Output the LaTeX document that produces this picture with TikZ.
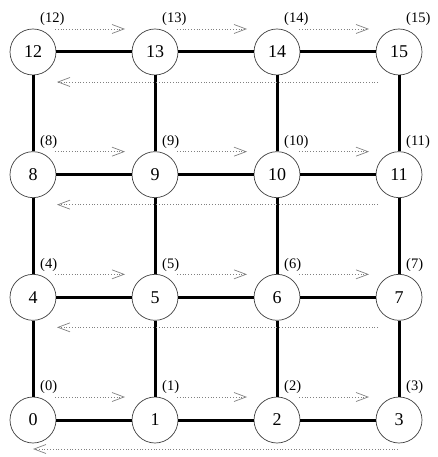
\documentclass[tikz,border=0pt]{standalone}
\usepackage{fontspec}
\setmainfont{Liberation Serif}
\usetikzlibrary{arrows.meta}
\begin{document}
\begin{tikzpicture}[x=1pt,y=-1pt,
 vert/.style={circle,draw=black!75,line width=0.7pt,minimum size=46pt,inner sep=0pt,font=\fontsize{18}{18}\selectfont,fill=white},
 lbl/.style={anchor=south west,inner sep=0pt,font=\fontsize{14.5}{14.5}\selectfont},
 link/.style={line width=3pt},
 fwd/.style={dotted,black!50,line width=0.8pt,-{Straight Barb[length=12pt,width=9pt,line width=0.7pt]}},
]
\useasboundingbox (0,0) rectangle (438,457);
\foreach \i in {0,...,15}{
 \pgfmathtruncatemacro\c{mod(\i,4)}
 \pgfmathtruncatemacro\r{div(\i,4)}
 \node[vert] (n\i) at ({33+122*\c},{420-122.67*\r}) {\i};
 \node[lbl] (l\i) at ([shift={(7pt,26pt)}]n\i.center) {(\i)};
}
\foreach \r in {0,...,3}{
 \foreach \c in {0,1,2}{
  \pgfmathtruncatemacro\a{4*\r+\c}
  \pgfmathtruncatemacro\b{\a+1}
  \draw[link] (n\a) -- (n\b);
  \draw[fwd] ([shift={(22pt,23pt)}]n\a.center) -- ([shift={(92pt,23pt)}]n\a.center);
 }
}
\foreach \i in {0,...,11}{
 \pgfmathtruncatemacro\j{\i+4}
 \draw[link] (n\i) -- (n\j);
}
\foreach \k in {4,8,12}{
 \draw[fwd] ([shift={(345pt,-30pt)}]n\k.center) -- ([shift={(24pt,-30pt)}]n\k.center);
}
\draw[fwd] ([shift={(365pt,-29pt)}]n0.center) -- ([shift={(0pt,-29pt)}]n0.center);
\end{tikzpicture}
\end{document}
